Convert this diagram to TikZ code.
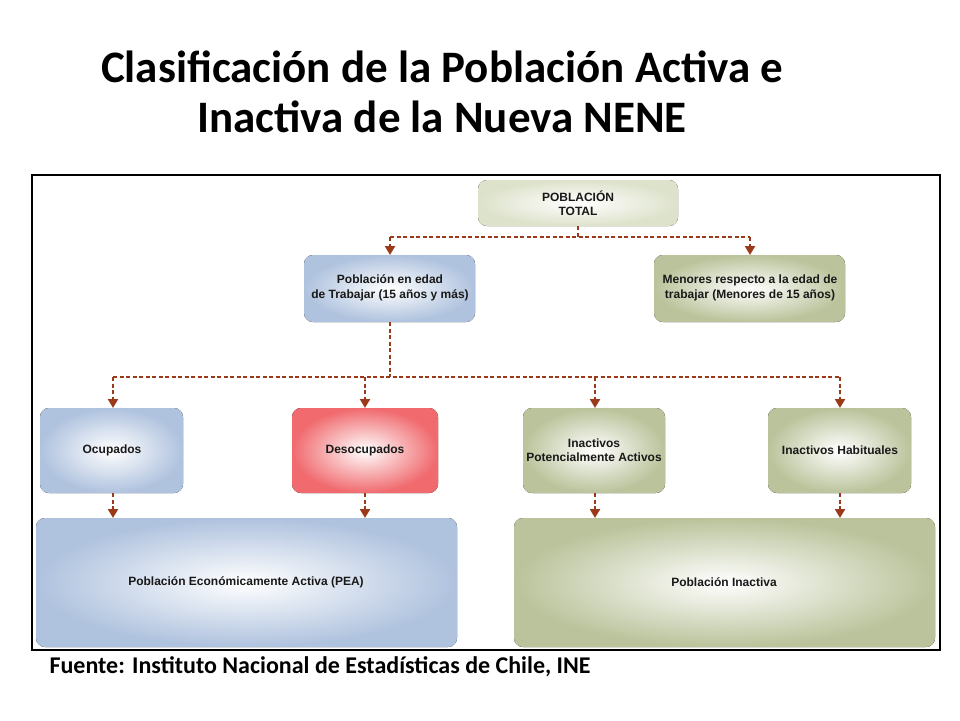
\documentclass[tikz,border=0pt]{standalone}
\usepackage{fontspec}
\setmainfont{Carlito}
\newfontfamily\boxfont{Liberation Sans}
\usetikzlibrary{arrows.meta}
\definecolor{cblue}{HTML}{AFC2DE}
\definecolor{cgreen}{HTML}{BAC39B}
\definecolor{cbeige}{HTML}{DDE2CB}
\definecolor{cred}{HTML}{F06A6E}
\definecolor{carrow}{HTML}{9B3A1A}
\tikzset{
 bx/.style={rounded corners=9pt,inner color=white,outer color=#1,draw=none},
 lbl/.style={font=\boxfont\bfseries\fontsize{12}{14.5}\selectfont,align=center,text=black!90},
 con/.style={draw=carrow,line width=2.4pt,dash pattern=on 4pt off 2.5pt},
 arr/.style={con,-{Triangle[length=9pt,width=10pt]}},
}
\begin{document}
\begin{tikzpicture}[x=1pt,y=-1pt]
\useasboundingbox (0,0) rectangle (960,720);
\node[font=\bfseries\fontsize{45}{50}\selectfont,align=center] (title) at (442,92) {Clasificación de la Población Activa e\\Inactiva de la Nueva NENE};
\draw[line width=2.5pt] (32,175) rectangle (940,650);
\fill[bx=cbeige] (478,180) rectangle (678,226);
\node[lbl] (tot) at (578,203) {POBLACIÓN\\TOTAL};
\fill[bx=cblue] (304,255) rectangle (475,322);
\node[lbl] (pet) at (390,288) {Población en edad\\de Trabajar (15 años y más)};
\fill[bx=cgreen] (654,255) rectangle (845,322);
\node[lbl] (men) at (750,288) {Menores respecto a la edad de\\trabajar (Menores de 15 años)};
\fill[bx=cblue] (40,408) rectangle (183,493);
\node[lbl] (ocu) at (112,450) {Ocupados};
\fill[bx=cred] (292,408) rectangle (438,493);
\node[lbl] (des) at (365,450) {Desocupados};
\fill[bx=cgreen] (523,408) rectangle (665,493);
\node[lbl] (ipa) at (594,450) {Inactivos\\Potencialmente Activos};
\fill[bx=cgreen] (768,408) rectangle (911,493);
\node[lbl] (iha) at (840,450) {Inactivos Habituales};
\fill[bx=cblue] (36,518) rectangle (457,647);
\node[lbl] (pea) at (246,582) {Población Económicamente Activa (PEA)};
\fill[bx=cgreen] (514,518) rectangle (935,647);
\node[lbl] (pin) at (724,582) {Población Inactiva};
\coordinate (t0) at (578,226);
\coordinate (t1) at (578,237);
\coordinate (tl) at (390,237);
\coordinate (tr) at (750,237);
\coordinate (tlb) at (390,255);
\coordinate (trb) at (750,255);
\draw[con] (t0) -- (t1);
\draw[con] (tl) -- (tr);
\draw[arr] (tl) -- (tlb);
\draw[arr] (tr) -- (trb);
\coordinate (p0) at (390,322);
\coordinate (p1) at (390,377);
\coordinate (h1) at (113,377);
\coordinate (h4) at (840,377);
\draw[con] (p0) -- (p1);
\draw[con] (h1) -- (h4);
\foreach \x in {113,365,595,840}{
 \draw[arr] (\x,377) -- (\x,408);
 \draw[arr] (\x,493) -- (\x,518);
}
\node[font=\bfseries\fontsize{24}{28}\selectfont,anchor=west] (src) at (46,667) {Fuente: Instituto Nacional de Estadísticas de Chile, INE};
\end{tikzpicture}
\end{document}
